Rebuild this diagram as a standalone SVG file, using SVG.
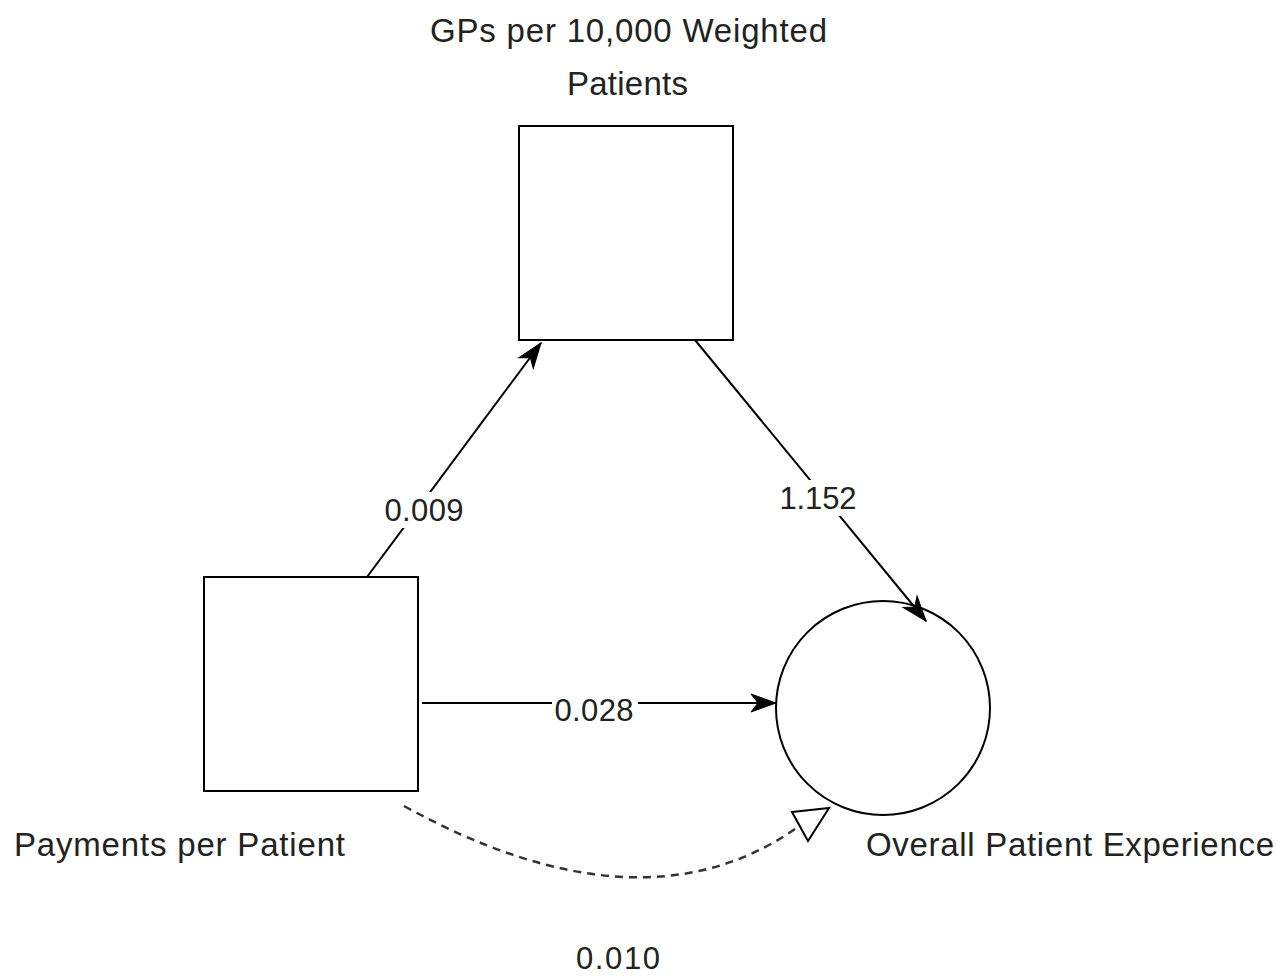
<svg xmlns="http://www.w3.org/2000/svg" width="1277" height="977" viewBox="0 0 1277 977">
<defs>
<style>
.node{fill:#fff;stroke:#000;stroke-width:2}
.edge{fill:none;stroke:#000;stroke-width:2}
.dash{fill:none;stroke:#333;stroke-width:2.5;stroke-dasharray:8 6}
.t{font-family:"Liberation Sans",Arial,sans-serif;font-size:33px;fill:#222}
.n{font-family:"Liberation Sans",Arial,sans-serif;font-size:31px;fill:#222}
.lbl{fill:#fff}
</style>
<marker id="arr" markerUnits="userSpaceOnUse" markerWidth="30" markerHeight="24" viewBox="-27 -12 30 24" refX="0" refY="0" orient="auto">
<path d="M0,0 L-25,-9 L-18,0 L-25,9 Z" fill="#000" stroke="#000" stroke-width="1"/>
</marker>
</defs>
<rect width="1277" height="977" fill="#fff"/>
<g id="gps">
<rect class="node" x="519" y="126" width="214" height="214"/>
<text class="t" x="430" y="42" textLength="397" lengthAdjust="spacing">GPs per 10,000 Weighted</text>
<text class="t" x="567" y="95" textLength="121" lengthAdjust="spacing">Patients</text>
</g>
<g id="payments">
<rect class="node" x="204" y="577" width="214" height="214"/>
<text class="t" x="14" y="856" textLength="331" lengthAdjust="spacing">Payments per Patient</text>
</g>
<g id="experience">
<circle class="node" cx="883" cy="708" r="107"/>
<text class="t" x="866" y="856" textLength="408" lengthAdjust="spacing">Overall Patient Experience</text>
</g>
<g id="connectors">
<line class="edge" x1="367" y1="577" x2="541" y2="343" marker-end="url(#arr)"/>
<line class="edge" x1="695" y1="340" x2="926" y2="621" marker-end="url(#arr)"/>
<line class="edge" x1="422" y1="703" x2="776" y2="703" marker-end="url(#arr)"/>
<path class="dash" d="M404,806 Q640,936 795,829"/>
<polygon points="792,812 829,808 808,841" fill="#fff" stroke="#000" stroke-width="2"/>
<rect class="lbl" x="380" y="492" width="87" height="36"/>
<text class="n" x="424" y="521" text-anchor="middle" textLength="79" lengthAdjust="spacing">0.009</text>
<rect class="lbl" x="776" y="480" width="84" height="36"/>
<text class="n" x="818" y="509" text-anchor="middle" textLength="77" lengthAdjust="spacing">1.152</text>
<rect class="lbl" x="552" y="692" width="86" height="36"/>
<text class="n" x="594" y="721" text-anchor="middle" textLength="79" lengthAdjust="spacing">0.028</text>
<text class="n" x="618" y="969" text-anchor="middle" textLength="84" lengthAdjust="spacing">0.010</text>
</g>
</svg>
